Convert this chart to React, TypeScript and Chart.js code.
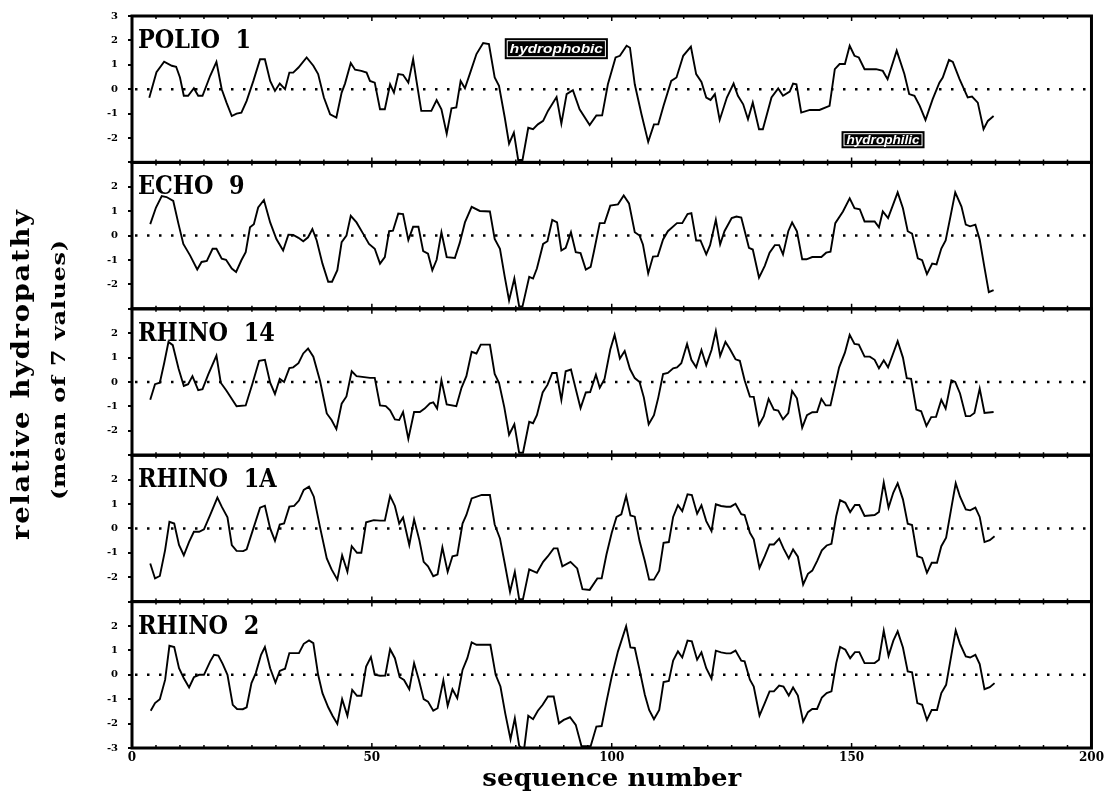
import React, { useEffect, useRef } from 'react';
import { Chart, registerables } from 'chart.js';

Chart.register(...registerables);

type Pt = [number, number];

const panelNames = ['POLIO  1', 'ECHO  9', 'RHINO  14', 'RHINO  1A', 'RHINO  2'];
const xTickValues = [0, 50, 100, 150, 200];
const yTickLabelsShown: number[][] = [
  [3, 2, 1, 0, -1, -2],
  [2, 1, 0, -1, -2],
  [2, 1, 0, -1, -2],
  [2, 1, 0, -1, -2],
  [2, 1, 0, -1, -2, -3],
];

const polio1: Pt[] = [
  [3.6,-0.35],[5.1,0.7],[6.7,1.13],[8.3,0.96],[9.2,0.92],[10,0.48],[10.8,-0.27],[11.7,-0.27],[12.9,0.04],[13.8,-0.27],[14.7,-0.27],[16.3,0.55],[17.6,1.12],[18.7,0],[19.7,-0.55],[20.8,-1.1],[21.8,-1.0],[22.8,-0.96],[23.9,-0.48],[25.3,0.34],[26.7,1.23],[27.7,1.23],[28.8,0.34],[29.8,-0.07],[30.8,0.23],[31.9,0],[32.8,0.68],[33.6,0.68],[34.7,0.89],[36.4,1.3],[37.8,0.96],[38.8,0.62],[40,-0.34],[41.3,-1.03],[42.6,-1.16],[43.7,-0.14],[44.4,0.23],[45.6,1.07],[46.5,0.8],[47.8,0.75],[48.9,0.68],[49.6,0.34],[50.6,0.27],[51.7,-0.82],[52.7,-0.82],[53.8,0.2],[54.6,-0.14],[55.5,0.62],[56.5,0.59],[57.6,0.27],[58.6,1.23],[59.3,0.34],[60.3,-0.89],[62.4,-0.89],[63.5,-0.45],[64.5,-0.82],[65.6,-1.82],[66.6,-0.78],[67.6,-0.75],[68.5,0.34],[69.4,0.04],[70.4,0.62],[71.8,1.44],[73.2,1.89],[74.4,1.85],[75.6,0.48],[76.5,0.14],[77.7,-1.16],[78.6,-2.23],[79.6,-1.78],[80.5,-2.9],[81.4,-2.9],[82.6,-1.58],[83.6,-1.64],[84.6,-1.44],[85.7,-1.3],[86.7,-0.89],[88.5,-0.32],[89.5,-1.41],[90.6,-0.2],[91.9,-0.04],[93.3,-0.82],[95.4,-1.47],[96.8,-1.08],[98.0,-1.07],[99.2,0.2],[100.8,1.3],[101.7,1.37],[103.1,1.78],[103.8,1.7],[104.8,0.2],[106.2,-1.03],[107.6,-2.16],[108.8,-1.44],[109.7,-1.44],[110.8,-0.68],[112.4,0.34],[113.5,0.48],[114.9,1.37],[116.5,1.74],[117.6,0.62],[118.7,0.3],[119.7,-0.34],[120.6,-0.44],[121.5,-0.2],[122.5,-1.26],[124.0,-0.34],[125.4,0.23],[126.3,-0.27],[127.4,-0.62],[128.4,-1.23],[129.4,-0.55],[130.7,-1.64],[131.5,-1.64],[133.3,-0.34],[134.7,0.03],[135.7,-0.27],[137.1,-0.1],[137.8,0.23],[138.5,0.2],[139.5,-0.96],[141.3,-0.85],[143.3,-0.85],[145.4,-0.68],[146.5,0.82],[147.5,1.03],[148.6,1.03],[149.6,1.78],[150.6,1.37],[151.5,1.3],[152.7,0.82],[155.1,0.82],[156.5,0.75],[157.5,0.41],[159.4,1.58],[161.0,0.62],[162.0,-0.2],[163.1,-0.27],[164.2,-0.68],[165.4,-1.26],[166.9,-0.41],[168.3,0.27],[169.0,0.48],[170.3,1.2],[171.1,1.12],[172.5,0.41],[174.2,-0.34],[175.1,-0.3],[176.3,-0.55],[177.5,-1.64],[178.4,-1.3],[179.6,-1.1],
];

const echo9: Pt[] = [
  [3.8,0.47],[5,1.15],[6.2,1.62],[7.2,1.58],[8.6,1.42],[9.7,0.47],[10.7,-0.34],[12.1,-0.81],[13.6,-1.39],[14.5,-1.08],[15.6,-1.04],[16.8,-0.54],[17.6,-0.54],[18.7,-0.95],[19.6,-0.99],[20.8,-1.35],[21.7,-1.49],[22.8,-1.01],[23.7,-0.68],[24.6,0.34],[25.4,0.47],[26.3,1.15],[27.5,1.46],[28.8,0.54],[30.1,-0.14],[31.5,-0.61],[32.6,0.04],[33.6,0.03],[34.7,-0.09],[35.7,-0.23],[36.7,-0.07],[37.6,0.27],[38.5,-0.2],[39.7,-1.15],[40.9,-1.89],[41.7,-1.89],[42.8,-1.42],[43.7,-0.27],[44.7,0],[45.6,0.81],[46.8,0.54],[48.2,0.07],[49.4,-0.34],[50.6,-0.54],[51.7,-1.15],[52.7,-0.88],[53.6,0.18],[54.4,0.2],[55.5,0.9],[56.5,0.88],[57.6,-0.18],[58.6,0.36],[59.7,0.36],[60.7,-0.64],[61.7,-0.74],[62.6,-1.42],[63.5,-0.99],[64.5,0.14],[65.6,-0.88],[67.3,-0.92],[68.3,-0.31],[69.4,0.54],[70.8,1.18],[72.5,1.01],[74.6,0.99],[75.6,-0.14],[76.7,-0.54],[77.7,-1.69],[78.6,-2.66],[79.7,-1.76],[80.7,-2.9],[81.4,-2.9],[82.8,-1.69],[83.6,-1.76],[84.4,-1.35],[85.7,-0.34],[86.6,-0.23],[87.6,0.64],[88.6,0.54],[89.5,-0.61],[90.4,-0.5],[91.5,0.14],[92.5,-0.68],[93.5,-0.72],[94.6,-1.39],[95.6,-1.28],[96.3,-0.64],[97.5,0.51],[98.5,0.51],[99.7,1.23],[101.3,1.28],[102.5,1.64],[103.6,1.32],[104.8,0.14],[105.8,0],[106.5,-0.36],[107.6,-1.55],[108.6,-0.86],[109.6,-0.84],[110.7,-0.16],[111.7,0.18],[113.6,0.51],[114.7,0.51],[115.8,0.88],[116.6,0.92],[117.6,-0.2],[118.5,-0.2],[119.7,-0.77],[120.5,-0.39],[121.7,0.65],[122.6,-0.36],[123.5,0.18],[125.0,0.72],[126,0.78],[127,0.74],[128.6,-0.5],[129.4,-0.57],[130.7,-1.72],[131.9,-1.24],[132.9,-0.7],[134.0,-0.39],[134.9,-0.39],[135.7,-0.77],[136.8,0.18],[137.6,0.54],[138.6,0.18],[139.7,-0.97],[140.6,-0.97],[141.8,-0.88],[143.7,-0.88],[144.7,-0.7],[145.6,-0.66],[146.6,0.51],[148.2,0.99],[149.6,1.53],[150.6,1.12],[151.7,1.08],[152.7,0.58],[154.8,0.58],[155.7,0.34],[156.5,0.99],[157.6,0.72],[159.6,1.77],[160.7,1.12],[161.7,0.18],[162.6,0.08],[163.8,-0.93],[164.7,-1.01],[165.7,-1.58],[166.8,-1.15],[167.7,-1.18],[168.7,-0.53],[169.6,-0.2],[170.6,0.78],[171.6,1.77],[172.9,1.19],[173.8,0.45],[174.7,0.38],[175.8,0.45],[176.7,-0.16],[177.7,-1.31],[178.6,-2.32],[179.6,-2.23],
];

const rhino14: Pt[] = [
  [3.8,-0.73],[4.8,-0.09],[5.8,-0.03],[6.7,0.77],[7.6,1.64],[8.5,1.51],[9.7,0.55],[10.8,-0.16],[11.7,-0.09],[12.6,0.24],[13.8,-0.33],[14.7,-0.29],[15.9,0.31],[17.6,1.08],[18.5,-0.03],[19.7,-0.36],[21.8,-0.99],[23.7,-0.96],[25.1,-0.07],[26.5,0.87],[27.7,0.91],[28.8,-0.03],[29.8,-0.49],[30.8,0.13],[31.7,0],[32.8,0.57],[33.6,0.6],[34.7,0.77],[35.7,1.17],[36.7,1.37],[37.8,1.04],[39.2,0.04],[40.6,-1.29],[41.6,-1.56],[42.6,-1.93],[43.7,-0.89],[44.7,-0.59],[45.8,0.44],[46.8,0.24],[49.6,0.17],[50.6,0.17],[51.7,-0.96],[52.9,-0.99],[53.8,-1.16],[54.8,-1.53],[55.7,-1.56],[56.5,-1.23],[57.6,-2.33],[58.8,-1.23],[60,-1.23],[61,-1.09],[62.1,-0.87],[62.8,-0.83],[63.6,-1.09],[64.5,0.07],[65.6,-0.92],[67.6,-0.99],[68.7,-0.23],[69.7,0.24],[70.8,1.24],[71.8,1.17],[72.7,1.53],[74.6,1.53],[75.6,0.33],[76.5,-0.03],[77.6,-1.03],[78.6,-2.16],[79.7,-1.73],[80.7,-2.9],[81.5,-2.9],[82.8,-1.63],[83.6,-1.69],[84.4,-1.36],[85.6,-0.43],[86.6,-0.12],[87.6,0.37],[88.5,0.37],[89.5,-0.73],[90.4,0.44],[91.5,0.51],[92.5,-0.29],[93.5,-1.07],[94.6,-0.43],[95.5,-0.41],[96.7,0.3],[97.5,-0.24],[98.5,0.13],[99.7,1.33],[100.6,1.93],[101.7,0.96],[102.7,1.27],[103.8,0.53],[104.8,0.16],[105.8,0],[106.7,-0.64],[107.7,-1.73],[108.8,-1.36],[109.7,-0.64],[110.7,0.33],[111.7,0.37],[112.8,0.56],[113.6,0.6],[114.5,0.77],[115.7,1.56],[116.6,0.91],[117.6,0.6],[118.7,1.31],[119.7,0.69],[120.8,1.31],[121.7,2.09],[122.6,1.07],[123.7,1.64],[124.6,1.36],[125.8,0.93],[126.7,0.87],[127.7,0.07],[128.8,-0.6],[129.6,-0.61],[130.7,-1.76],[131.7,-1.4],[132.7,-0.69],[133.8,-1.13],[134.7,-1.17],[135.7,-1.53],[136.8,-1.27],[137.6,-0.37],[138.6,-0.67],[139.7,-1.87],[140.7,-1.36],[141.8,-1.24],[142.8,-1.23],[143.7,-0.69],[144.6,-0.96],[145.6,-0.96],[146.7,0],[147.4,0.6],[148.6,1.2],[149.6,1.93],[150.6,1.56],[151.5,1.53],[152.7,1.04],[153.8,1.04],[154.8,0.91],[155.7,0.56],[156.7,0.89],[157.6,0.6],[159.6,1.67],[160.7,1.0],[161.5,0.16],[162.4,0.13],[163.5,-1.13],[164.5,-1.2],[165.6,-1.8],[166.6,-1.44],[167.6,-1.43],[168.7,-0.73],[169.6,-1.09],[170.8,0.07],[171.6,0],[172.6,-0.47],[173.8,-1.4],[174.7,-1.4],[175.6,-1.27],[176.7,-0.27],[177.7,-1.27],[179.6,-1.23],
];

const rhino1a: Pt[] = [
  [3.8,-1.44],[4.8,-2.05],[5.8,-1.95],[6.9,-0.89],[7.8,0.27],[8.8,0.2],[9.8,-0.68],[10.8,-1.1],[11.9,-0.55],[12.9,-0.14],[14,-0.14],[15,-0.04],[16.3,0.55],[17.8,1.26],[18.7,0.89],[19.9,0.45],[20.8,-0.68],[21.8,-0.92],[23.2,-0.93],[23.9,-0.86],[25.3,0],[26.7,0.85],[27.7,0.93],[28.8,0],[29.8,-0.51],[30.8,0.16],[31.7,0.2],[32.8,0.89],[33.8,0.92],[34.8,1.14],[35.8,1.58],[36.9,1.71],[37.9,1.3],[39.2,0.04],[40.6,-1.23],[41.6,-1.68],[42.8,-2.1],[43.8,-1.1],[44.9,-1.78],[45.8,-0.73],[46.9,-1.0],[47.8,-1.0],[48.8,0.25],[50.4,0.34],[51.7,0.32],[52.7,0.32],[53.8,1.33],[54.8,0.92],[55.7,0.2],[56.5,0.45],[57.8,-0.68],[58.8,0.37],[59.9,-0.48],[60.8,-1.37],[61.7,-1.55],[62.8,-1.96],[63.7,-1.88],[64.7,-0.78],[65.8,-1.78],[66.8,-1.14],[67.8,-1.1],[68.9,0.2],[69.7,0.55],[70.8,1.23],[72.9,1.37],[74.6,1.37],[75.6,0.16],[76.7,-0.41],[77.7,-1.44],[78.8,-2.6],[79.8,-1.78],[80.7,-2.9],[81.5,-2.9],[82.8,-1.68],[84.4,-1.82],[85.7,-1.37],[86.7,-1.14],[87.9,-0.82],[88.7,-0.82],[89.7,-1.55],[91.4,-1.37],[92.8,-1.64],[93.9,-2.49],[95.4,-2.52],[97,-2.05],[97.9,-2.05],[98.9,-1.07],[100,-0.18],[101,0.47],[102,0.58],[103,1.33],[103.9,0.53],[104.8,0.48],[105.8,-0.52],[106.9,-1.34],[107.8,-2.1],[108.8,-2.1],[109.9,-1.73],[110.8,-0.59],[111.9,-0.56],[112.8,0.47],[113.8,0.95],[114.7,0.71],[115.8,1.4],[116.7,1.37],[117.8,0.6],[118.7,0.95],[119.7,0.3],[120.8,-0.11],[121.7,0.99],[122.8,0.92],[123.9,0.89],[124.8,0.89],[125.8,1.01],[127,0.58],[127.7,0.55],[128.8,-0.18],[129.6,-0.45],[130.8,-1.62],[131.9,-1.14],[132.9,-0.66],[133.8,-0.66],[134.9,-0.42],[135.8,-0.82],[136.9,-1.23],[137.8,-0.86],[138.8,-1.16],[139.9,-2.3],[140.9,-1.86],[141.8,-1.73],[142.8,-1.34],[143.8,-0.9],[144.8,-0.7],[145.8,-0.63],[146.8,0.51],[147.6,1.16],[148.7,1.05],[149.7,0.67],[150.7,0.96],[151.6,0.96],[152.7,0.51],[154.8,0.55],[155.7,0.67],[156.7,1.88],[157.7,0.85],[158.7,1.47],[159.6,1.85],[160.7,1.19],[161.7,0.19],[162.6,0.14],[163.7,-1.14],[164.7,-1.21],[165.7,-1.82],[166.7,-1.41],[167.8,-1.41],[168.7,-0.73],[169.7,-0.38],[170.8,0.85],[171.7,1.85],[172.6,1.3],[173.8,0.78],[174.7,0.74],[175.8,0.85],[176.7,0.47],[177.7,-0.56],[178.8,-0.48],[179.8,-0.32],
];

const rhino2: Pt[] = [
  [3.9,-1.47],[4.8,-1.16],[5.8,-1.0],[6.9,-0.21],[7.8,1.19],[8.8,1.14],[9.8,0.27],[10.8,-0.14],[11.9,-0.52],[12.9,-0.1],[14,0],[15,0],[16.3,0.55],[17.1,0.82],[18,0.79],[18.9,0.45],[19.9,0],[21,-1.23],[21.9,-1.4],[23.1,-1.41],[23.9,-1.33],[24.9,-0.34],[25.8,0.07],[26.9,0.82],[27.7,1.14],[28.8,0.27],[29.9,-0.32],[30.8,0.16],[31.9,0.25],[32.8,0.89],[34.8,0.89],[35.8,1.27],[36.9,1.41],[37.8,1.3],[38.8,0],[39.7,-0.75],[40.9,-1.33],[41.8,-1.68],[42.8,-2.01],[43.8,-1.0],[44.9,-1.68],[45.9,-0.62],[46.9,-0.86],[47.8,-0.86],[48.8,0.34],[49.8,0.73],[50.6,0],[51.7,-0.04],[52.8,-0.03],[53.8,1.05],[54.8,0.68],[55.8,-0.1],[56.7,-0.21],[57.8,-0.59],[58.8,0.48],[59.8,-0.21],[60.8,-1.0],[61.7,-1.1],[62.8,-1.47],[63.7,-1.37],[64.9,-0.23],[65.8,-1.27],[66.8,-0.59],[67.8,-0.96],[68.9,0.2],[69.9,0.68],[70.8,1.33],[71.8,1.23],[74.7,1.23],[75.8,0],[76.8,-0.48],[77.8,-1.58],[78.9,-2.64],[79.8,-1.78],[80.7,-2.9],[81.7,-3.1],[82.6,-1.68],[83.6,-1.82],[84.6,-1.47],[85.6,-1.23],[86.7,-0.89],[87.9,-0.89],[89,-1.99],[90,-1.85],[91.3,-1.74],[92.5,-2.05],[93.7,-2.93],[95.6,-2.93],[96.8,-2.12],[97.9,-2.1],[98.9,-1.1],[100,-0.07],[101.3,0.96],[103,1.99],[103.9,1.12],[104.8,1.1],[105.8,0.2],[106.9,-0.82],[107.8,-1.44],[108.8,-1.82],[109.9,-1.44],[110.8,-0.3],[111.9,-0.25],[112.8,0.58],[113.8,0.96],[114.7,0.71],[115.8,1.4],[116.7,1.37],[117.8,0.62],[118.7,0.92],[119.7,0.27],[120.8,-0.16],[121.7,0.99],[122.8,0.92],[123.9,0.88],[124.8,0.88],[125.8,0.99],[127,0.58],[127.7,0.55],[128.8,-0.2],[129.6,-0.48],[130.8,-1.67],[131.9,-1.16],[132.9,-0.68],[133.8,-0.68],[134.9,-0.44],[135.8,-0.48],[136.9,-0.85],[137.8,-0.52],[138.8,-0.85],[139.9,-1.92],[140.9,-1.53],[141.8,-1.4],[142.8,-1.4],[143.8,-0.93],[144.8,-0.75],[145.8,-0.68],[146.8,0.48],[147.6,1.14],[148.7,1.03],[149.7,0.68],[150.7,0.93],[151.6,0.93],[152.7,0.48],[154.8,0.48],[155.7,0.62],[156.7,1.81],[157.7,0.78],[158.7,1.4],[159.6,1.78],[160.7,1.12],[161.7,0.14],[162.6,0.1],[163.7,-1.16],[164.7,-1.23],[165.7,-1.85],[166.7,-1.44],[167.8,-1.44],[168.7,-0.75],[169.7,-0.41],[170.8,0.82],[171.7,1.82],[172.6,1.27],[173.8,0.75],[174.7,0.71],[175.8,0.82],[176.7,0.44],[177.7,-0.59],[178.8,-0.51],[179.8,-0.34],
];

const seriesList: Pt[][] = [polio1, echo9, rhino14, rhino1a, rhino2];

// boxed annotations in the top panel (data units)
const annotationBoxes = [
  { text: 'hydrophobic', x0: 77.7, x1: 99.2, y0: 2.09, y1: 1.23 },
  { text: 'hydrophilic', x0: 147.9, x1: 165.2, y0: -1.72, y1: -2.42 },
];

const SERIF = '"DejaVu Serif", "Liberation Serif", serif';
const panelIds = ['p1', 'p2', 'p3', 'p4', 'p5'];

function drawTitle(ctx: CanvasRenderingContext2D, text: string, x: number, y: number, font: string, target: number, spacing: number, rotate: boolean) {
  ctx.save();
  ctx.font = font;
  ctx.fillStyle = '#000';
  ctx.translate(x, y);
  if (rotate) ctx.rotate(-Math.PI / 2);
  ctx.textAlign = 'center';
  ctx.textBaseline = 'middle';
  const a = ctx as any;
  let sp = 0;
  if ('letterSpacing' in a && spacing > 0) {
    sp = spacing;
    a.letterSpacing = sp + 'px';
  }
  const w0 = ctx.measureText(text).width - sp;
  ctx.scale(target / w0, 1);
  ctx.fillText(text, sp / 2, 0);
  if (sp) a.letterSpacing = '0px';
  ctx.restore();
}

const decorPlugin = {
  id: 'decor',
  afterDraw(chart: any) {
    const ctx: CanvasRenderingContext2D = chart.ctx;
    const xs = chart.scales.x;
    const { left, right } = chart.chartArea;
    ctx.save();
    ctx.strokeStyle = '#000';
    ctx.fillStyle = '#000';
    panelIds.forEach((id, i) => {
      const s = chart.scales[id];
      ctx.lineWidth = 1.5;
      ctx.beginPath();
      for (let v = 5; v < 200; v += 5) {
        const px = xs.getPixelForValue(v);
        const len = v % 50 === 0 ? 5 : 3;
        ctx.moveTo(px, s.top);
        ctx.lineTo(px, s.top + len);
        ctx.moveTo(px, s.bottom);
        ctx.lineTo(px, s.bottom - len);
      }
      ctx.stroke();
      ctx.lineWidth = 3;
      ctx.strokeRect(left, s.top, right - left, s.bottom - s.top);
      // panel label
      ctx.save();
      ctx.font = 'bold 26px ' + SERIF;
      ctx.textAlign = 'left';
      ctx.textBaseline = 'alphabetic';
      ctx.translate(left + 6, s.top + 32);
      ctx.scale(0.86, 1);
      ctx.fillText(panelNames[i], 0, 0);
      ctx.restore();
    });
    // annotation boxes
    const s1 = chart.scales.p1;
    annotationBoxes.forEach((b) => {
      const x0 = xs.getPixelForValue(b.x0);
      const x1 = xs.getPixelForValue(b.x1);
      const y0 = s1.getPixelForValue(b.y0);
      const y1 = s1.getPixelForValue(b.y1);
      ctx.fillStyle = '#000';
      ctx.fillRect(x0, y0, x1 - x0, y1 - y0);
      ctx.strokeStyle = '#fff';
      ctx.lineWidth = 1;
      ctx.strokeRect(x0 + 2.5, y0 + 2.5, x1 - x0 - 5, y1 - y0 - 5);
      ctx.save();
      ctx.fillStyle = '#fff';
      ctx.font = 'italic bold 13px "Liberation Sans", Arial, sans-serif';
      ctx.textAlign = 'center';
      ctx.textBaseline = 'middle';
      const w0 = ctx.measureText(b.text).width;
      ctx.translate((x0 + x1) / 2, (y0 + y1) / 2 + 1);
      ctx.scale(Math.min(1.2, (x1 - x0 - 10) / w0), 1);
      ctx.fillText(b.text, 0, 0);
      ctx.restore();
    });
    ctx.restore();
    // axis titles
    drawTitle(ctx, 'sequence number', (left + right) / 2, 779, 'bold 25px ' + SERIF, 259, 0, false);
    drawTitle(ctx, 'relative hydropathy', 23, 375, 'bold 24px ' + SERIF, 330, 1.5, true);
    drawTitle(ctx, '(mean of 7 values)', 60, 370, 'bold 19px ' + SERIF, 260, 0.5, true);
  },
};

function makeY(i: number) {
  const shown = yTickLabelsShown[i];
  return {
    type: 'linear',
    position: 'left',
    stack: 'panels',
    stackWeight: 1,
    min: -3,
    max: 3,
    grid: { display: true, drawOnChartArea: false, drawTicks: true, tickLength: 4, color: '#000', lineWidth: 2 },
    border: { display: false },
    ticks: {
      stepSize: 1,
      autoSkip: false,
      padding: 10,
      color: '#000',
      font: { family: SERIF, weight: 'bold', size: 10 },
      callback: (v: any) => (shown.indexOf(Number(v)) >= 0 ? String(v) : ''),
    },
    afterFit: (s: any) => { s.width = 132; },
  };
}

export default function App() {
  const ref = useRef<HTMLCanvasElement | null>(null);
  useEffect(() => {
    if (!ref.current) return;
    const datasets: any[] = [];
    seriesList.forEach((series, i) => {
      datasets.push({
        data: series.map(([x, y]) => ({ x, y })),
        yAxisID: panelIds[i],
        borderColor: '#000',
        borderWidth: 1.9,
        pointRadius: 0,
        tension: 0,
        fill: false,
      });
      datasets.push({
        data: [{ x: 0, y: 0 }, { x: 200, y: 0 }],
        yAxisID: panelIds[i],
        borderColor: '#000',
        borderWidth: 2.5,
        borderDash: [2.5, 9.5],
        borderDashOffset: -3,
        pointRadius: 0,
        fill: false,
      });
    });
    const scales: any = {
      x: {
        type: 'linear',
        min: 0,
        max: 200,
        grid: { display: false, drawTicks: false },
        border: { display: false },
        ticks: {
          stepSize: 50,
          autoSkip: false,
          padding: 3,
          color: '#000',
          font: { family: SERIF, weight: 'bold', size: 12 },
          callback: (v: any) => (xTickValues.indexOf(Number(v)) >= 0 ? String(v) : ''),
        },
        afterFit: (s: any) => { s.height = 51; },
      },
    };
    // defined bottom-to-top so that the first panel lands on top of the stack
    for (let i = 4; i >= 0; i--) scales[panelIds[i]] = makeY(i);
    const chart = new Chart(ref.current, {
      type: 'line',
      data: { datasets },
      options: {
        animation: false,
        responsive: false,
        devicePixelRatio: 1,
        layout: { padding: { top: 13, right: 15, left: 0, bottom: 0 } },
        plugins: { legend: { display: false }, tooltip: { enabled: false } },
        scales,
      } as any,
      plugins: [decorPlugin as any],
    });
    return () => chart.destroy();
  }, []);
  return (
    <div style={{ position: 'absolute', left: 0, top: 0, width: 1107, height: 799, background: '#fff' }}>
      <canvas ref={ref} width={1107} height={799} style={{ display: 'block' }} />
    </div>
  );
}
